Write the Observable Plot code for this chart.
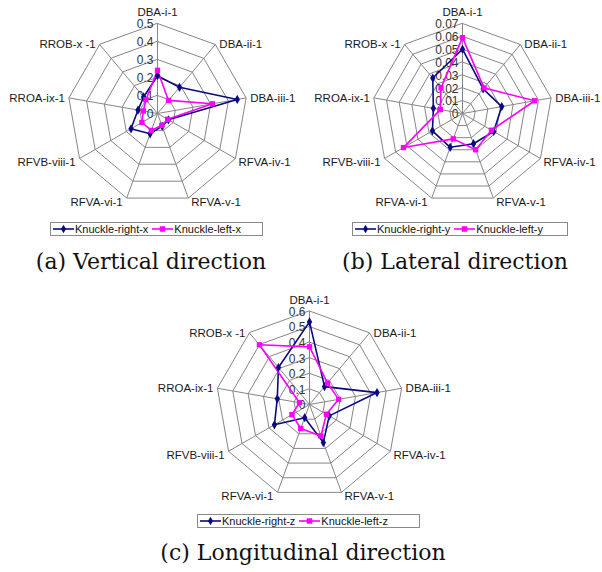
<!DOCTYPE html>
<html>
<head>
<meta charset="utf-8">
<script src="https://cdn.jsdelivr.net/npm/d3@7"></script>
<script src="https://cdn.jsdelivr.net/npm/@observablehq/plot@0.6"></script>
<style>
  body { margin: 0; background: #fff; }
  #page { position: relative; width: 602px; height: 572px; overflow: hidden; background: #fff; }
  .chart { position: absolute; }
  .legend { position: absolute; box-sizing: border-box; border: 1px solid #8a8a8a; height: 14px;
            display: flex; align-items: center; font: 11px "Liberation Sans", Arial, sans-serif; color: #111;
            white-space: nowrap; padding-left: 2px; }
  .legend svg { display: block; margin-right: 1px; }
  .legend .item { display: flex; align-items: center; margin-right: 4px; }
  .caption { position: absolute; font: 22px "DejaVu Serif", serif; line-height: 26px; color: #111; text-align: center; white-space: nowrap; }
</style>
</head>
<body>
<div id="page"></div>
<script>
// ---------- data ----------
const categories = ["DBA-i-1", "DBA-ii-1", "DBA-iii-1", "RFVA-iv-1", "RFVA-v-1", "RFVA-vi-1", "RFVB-viii-1", "RROA-ix-1", "RROB-x -1"];

const ticksA = [0, 0.1, 0.2, 0.3, 0.4, 0.5];
const tickLabelsA = ["0", "0.1", "0.2", "0.3", "0.4", "0.5"];
const ticksB = [0, 0.01, 0.02, 0.03, 0.04, 0.05, 0.06, 0.07];
const tickLabelsB = ["0", "0.01", "0.02", "0.03", "0.04", "0.05", "0.06", "0.07"];
const ticksC = [0, 0.1, 0.2, 0.3, 0.4, 0.5, 0.6];
const tickLabelsC = ["0", "0.1", "0.2", "0.3", "0.4", "0.5", "0.6"];

const knuckleRightX = [0.21, 0.19, 0.45, 0.07, 0.075, 0.12, 0.17, 0.11, 0.12];
const knuckleLeftX  = [0.24, 0.095, 0.31, 0.065, 0.07, 0.10, 0.10, 0.08, 0.10];
const knuckleRightY = [0.050, 0.025, 0.031, 0.028, 0.025, 0.028, 0.027, 0.023, 0.036];
const knuckleLeftY  = [0.059, 0.026, 0.057, 0.026, 0.030, 0.021, 0.053, 0.0175, 0.026];
const knuckleRightZ = [0.53, 0.15, 0.44, 0.146, 0.26, 0.09, 0.26, 0.21, 0.31];
const knuckleLeftZ  = [0.37, 0.18, 0.19, 0.125, 0.215, 0.164, 0.13, 0.065, 0.50];

const namesA = ["Knuckle-right-x", "Knuckle-left-x"];
const namesB = ["Knuckle-right-y", "Knuckle-left-y"];
const namesC = ["Knuckle-right-z", "Knuckle-left-z"];
const captions = ["(a) Vertical direction", "(b) Lateral direction", "(c) Longitudinal direction"];

const NAVY = "#0a0a80";
const PINK = "#ff00ff";
const GRID = "#868686";

// ---------- radar ----------
function radar(cfg) {
  const n = categories.length;
  const max = cfg.ticks[cfg.ticks.length - 1];
  const ang = i => i * 2 * Math.PI / n;
  const px = (v, i) => v / max * Math.sin(ang(i));
  const py = (v, i) => v / max * Math.cos(ang(i));
  const rings = cfg.ticks.slice(1).flatMap(t => categories.map((c, i) => ({t, i})));
  const spokes = categories.map((c, i) => ({c, i}));
  const series = [
    {name: cfg.names[0], values: cfg.rightVals, color: NAVY, symbol: "diamond", r: 2.8},
    {name: cfg.names[1], values: cfg.leftVals, color: PINK, symbol: "square", r: 3.0}
  ];
  const ticks = cfg.ticks.map((t, k) => ({t, label: cfg.tickLabels[k]}));
  const lab = (sel) => spokes.filter(sel);
  const textStyle = {fontSize: 11.5, fill: "#1a1a1a", fontFamily: "'Liberation Sans', Arial, sans-serif"};
  const marks = [
    Plot.line(rings, {x: d => px(d.t, d.i), y: d => py(d.t, d.i), z: "t", curve: "linear-closed", stroke: GRID, strokeWidth: 1}),
    Plot.link(spokes, {x1: 0, y1: 0, x2: d => px(max, d.i), y2: d => py(max, d.i), stroke: GRID, strokeWidth: 1}),
    Plot.text(ticks, {x: 0, y: d => d.t / max, text: "label", textAnchor: "end", dx: -4, dy: 1, fontSize: 12, fill: "#333", fontFamily: "'Liberation Sans', Arial, sans-serif"}),
    Plot.text(lab(d => d.i === 0), {x: d => px(max, d.i), y: d => py(max, d.i), text: "c", textAnchor: "middle", dy: -11, ...textStyle}),
    Plot.text(lab(d => d.i === 1 || d.i === 2), {x: d => px(max, d.i), y: d => py(max, d.i), text: "c", textAnchor: "start", dx: 4, dy: 0, ...textStyle}),
    Plot.text(lab(d => d.i === 3 || d.i === 4), {x: d => px(max, d.i), y: d => py(max, d.i), text: "c", textAnchor: "start", dx: 3, dy: 4, ...textStyle}),
    Plot.text(lab(d => d.i === 5 || d.i === 6), {x: d => px(max, d.i), y: d => py(max, d.i), text: "c", textAnchor: "end", dx: -4, dy: 4, ...textStyle}),
    Plot.text(lab(d => d.i === 7 || d.i === 8), {x: d => px(max, d.i), y: d => py(max, d.i), text: "c", textAnchor: "end", dx: -4, dy: 0, ...textStyle})
  ];
  for (const s of series) {
    const pts = s.values.map((v, i) => ({v, i}));
    marks.push(Plot.line(pts, {x: d => px(d.v, d.i), y: d => py(d.v, d.i), curve: "linear-closed", stroke: s.color, strokeWidth: 1.6}));
  }
  for (const s of series) {
    const pts = s.values.map((v, i) => ({v, i}));
    marks.push(Plot.dot(pts, {x: d => px(d.v, d.i), y: d => py(d.v, d.i), symbol: s.symbol, r: s.r, fill: s.color, stroke: "none"}));
  }
  const svg = Plot.plot({
    width: cfg.w, height: cfg.h, margin: 0,
    x: {domain: [-1, 1], range: [cfg.cx - cfg.R, cfg.cx + cfg.R], axis: null},
    y: {domain: [-1, 1], range: [cfg.cy + cfg.R, cfg.cy - cfg.R], axis: null},
    style: {background: "transparent", overflow: "visible"},
    marks
  });
  svg.classList.add("chart");
  svg.style.left = cfg.posLeft + "px";
  svg.style.top = cfg.posTop + "px";
  return svg;
}

function legend(names, left, top, width) {
  const div = document.createElement("div");
  div.className = "legend";
  div.style.left = left + "px";
  div.style.top = top + "px";
  div.style.width = width + "px";
  const specs = [{color: NAVY, sym: d3.symbolDiamond, size: 22}, {color: PINK, sym: d3.symbolSquare, size: 30}];
  names.forEach((name, k) => {
    const item = document.createElement("span");
    item.className = "item";
    const sw = d3.create("svg").attr("width", 21).attr("height", 10);
    sw.append("line").attr("x1", 0).attr("x2", 21).attr("y1", 5).attr("y2", 5).attr("stroke", specs[k].color).attr("stroke-width", 1.6);
    sw.append("path").attr("transform", "translate(10.5,5)").attr("d", d3.symbol(specs[k].sym, specs[k].size)()).attr("fill", specs[k].color);
    item.appendChild(sw.node());
    item.appendChild(document.createTextNode(name));
    div.appendChild(item);
  });
  return div;
}

function caption(text, cx, top) {
  const div = document.createElement("div");
  div.className = "caption";
  div.textContent = text;
  div.style.left = (cx - 160) + "px";
  div.style.width = "320px";
  div.style.top = top + "px";
  return div;
}

const page = document.getElementById("page");
page.appendChild(radar({ticks: ticksA, tickLabels: tickLabelsA, rightVals: knuckleRightX, leftVals: knuckleLeftX, names: namesA,
  w: 300, h: 220, posLeft: 0, posTop: 0, cx: 157, cy: 113, R: 90}));
page.appendChild(radar({ticks: ticksB, tickLabels: tickLabelsB, rightVals: knuckleRightY, leftVals: knuckleLeftY, names: namesB,
  w: 301, h: 220, posLeft: 301, posTop: 0, cx: 161, cy: 113, R: 90}));
page.appendChild(radar({ticks: ticksC, tickLabels: tickLabelsC, rightVals: knuckleRightZ, leftVals: knuckleLeftZ, names: namesC,
  w: 330, h: 230, posLeft: 140, posTop: 290, cx: 169, cy: 114, R: 93.5}));

page.appendChild(legend(namesA, 50, 222, 213));
page.appendChild(legend(namesB, 352, 222, 216));
page.appendChild(legend(namesC, 197, 514, 223));

page.appendChild(caption(captions[0], 151, 249));
page.appendChild(caption(captions[1], 455, 249));
page.appendChild(caption(captions[2], 303, 540));
</script>
</body>
</html>
